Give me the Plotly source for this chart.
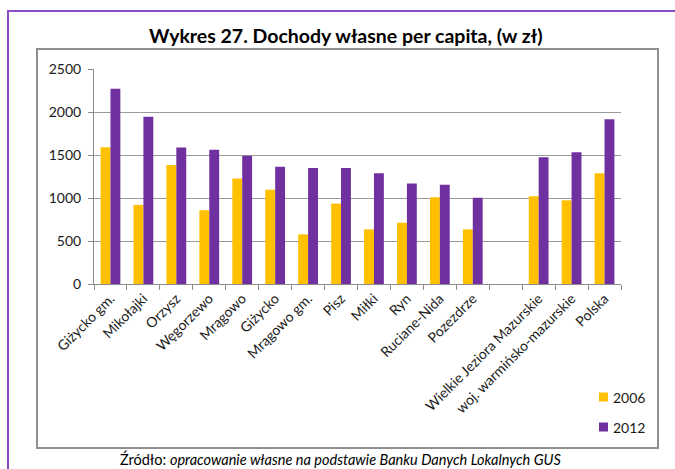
import plotly.graph_objects as go

# Gminy i obszary porównawcze (pusta kategoria oddziela grupy)
categories = [
    "Giżycko gm.", "Mikołajki", "Orzysz", "Węgorzewo", "Mrągowo", "Giżycko",
    "Mrągowo gm.", "Pisz", "Miłki", "Ryn", "Ruciane-Nida", "Pozezdrze", " ",
    "Wielkie Jeziora Mazurskie", "woj. warmińsko-mazurskie", "Polska",
]
values_2006 = [1590, 920, 1385, 858, 1228, 1096, 577, 935, 635, 712, 1008, 635,
               None, 1019, 973, 1288]
values_2012 = [2269, 1946, 1588, 1562, 1492, 1362, 1350, 1350, 1288, 1169, 1154, 1004,
               None, 1473, 1531, 1915]
y_ticks = [0, 500, 1000, 1500, 2000, 2500]

series = [("2006", values_2006, "#FFC000"), ("2012", values_2012, "#7030A0")]

W, H = 675, 469
L, R, T, B = 94, 621, 69, 284  # plot area in pixels


def px_x(p):
    return (p - L) / (R - L)


def px_y(p):
    return (B - p) / (B - T)


FONT = "Lato, 'Open Sans', sans-serif"

fig = go.Figure()
for name, vals, color in series:
    fig.add_trace(go.Bar(name=name, x=categories, y=vals,
                         marker=dict(color=color, line=dict(width=0)),
                         showlegend=False))

# compact legend: colour square followed by the year
legend_shapes, legend_notes = [], []
for i, (name, _, color) in enumerate(series):
    cy = 397 + 30 * i
    legend_shapes.append(dict(type="rect", xref="paper", yref="paper",
                              x0=px_x(599), x1=px_x(608), y0=px_y(cy - 4.5), y1=px_y(cy + 4.5),
                              fillcolor=color, line=dict(width=0)))
    legend_notes.append(dict(text=name, xref="paper", yref="paper",
                             x=px_x(611), y=px_y(cy), xanchor="left", yanchor="middle",
                             showarrow=False, font=dict(size=14, color="#1a1a1a", family=FONT)))

fig.update_layout(
    width=W, height=H,
    margin=dict(l=L, r=W - R, t=T, b=H - B),
    paper_bgcolor="white", plot_bgcolor="white",
    barmode="group", bargap=0.40, bargroupgap=0,
    font=dict(family=FONT, size=12, color="#1a1a1a"),
    showlegend=False,
    xaxis=dict(
        type="category", tickangle=-45, tickson="boundaries",
        ticks="outside", ticklen=5, tickcolor="#8c8c8c",
        showline=True, linecolor="#8c8c8c", linewidth=1,
        tickfont=dict(size=14, color="#1a1a1a"),
        showgrid=False,
    ),
    yaxis=dict(
        range=[0, 2500], tickvals=y_ticks, ticks="outside", ticklen=5,
        tickcolor="#8c8c8c", showline=True, linecolor="#8c8c8c", linewidth=1,
        showgrid=True, gridcolor="#9a9a9a", gridwidth=1,
        tickfont=dict(size=14, color="#1a1a1a"), zeroline=False,
        ticklabelstandoff=4,
    ),
    shapes=[
        # purple frame of the page
        dict(type="rect", xref="paper", yref="paper",
             x0=px_x(8), x1=px_x(720), y0=px_y(11), y1=px_y(520),
             line=dict(color="#8A4CC4", width=2), layer="below"),
        # gray chart frame
        dict(type="rect", xref="paper", yref="paper",
             x0=px_x(37), x1=px_x(658), y0=px_y(49), y1=px_y(448),
             line=dict(color="#8f8f8f", width=2), layer="below"),
    ] + legend_shapes,
    annotations=[
        dict(text="<b>Wykres 27. Dochody własne per capita, (w zł)</b>",
             xref="paper", yref="paper", x=px_x(346), y=px_y(35),
             xanchor="center", yanchor="middle", showarrow=False,
             font=dict(size=19.5, color="#000000", family=FONT)),
        dict(text="Źródło: <i>opracowanie własne na podstawie Banku Danych Lokalnych GUS</i>",
             xref="paper", yref="paper", x=px_x(340), y=px_y(459),
             xanchor="center", yanchor="middle", showarrow=False,
             font=dict(size=14.5, color="#000000", family=FONT)),
    ] + legend_notes,
)

fig.write_html("out.html")
